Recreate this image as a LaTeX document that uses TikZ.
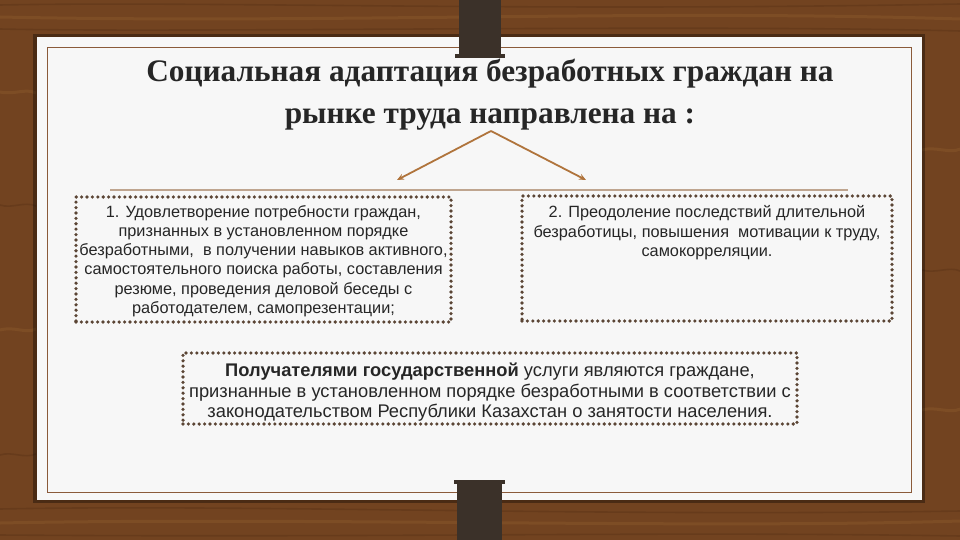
\documentclass[tikz,border=0pt]{standalone}
\usepackage{fontspec}
\setmainfont{Liberation Serif}
\setsansfont{Liberation Sans}
\newfontfamily\boxfont{Liberation Sans}
\usetikzlibrary{arrows.meta}
\definecolor{wood}{HTML}{724320}
\definecolor{wooddark}{HTML}{4E2A12}
\definecolor{woodlight}{HTML}{93602F}
\definecolor{card}{HTML}{F7F7F7}
\definecolor{frameline}{HTML}{8A5A3A}
\definecolor{post}{HTML}{3B3129}
\definecolor{arrowc}{HTML}{B0743C}
\definecolor{dotc}{HTML}{5B4535}
\definecolor{rulec}{HTML}{BFA58F}
\definecolor{txt}{HTML}{262626}
\tikzset{
  dotbox/.style={draw=dotc, line width=3.6pt, dash pattern=on 0pt off 5.4pt, line cap=round, fill=card, inner sep=0pt},
  boxtext/.style={font=\boxfont\fontsize{16.3}{19.3}\selectfont, text=txt, align=center, inner sep=0pt},
  titletext/.style={font=\bfseries\fontsize{31.3}{42}\selectfont, text=txt, align=center, inner sep=0pt},
  brancharrow/.style={draw=arrowc, line width=1.8pt, -{Stealth[length=7pt,width=6pt]}},
  grain/.style={draw=wooddark, line width=1.6pt, opacity=0.3},
  grainlight/.style={draw=woodlight, line width=3pt, opacity=0.35}
}
\begin{document}
\begin{tikzpicture}[x=1pt,y=-1pt]
\useasboundingbox (0,0) rectangle (960,540);
% wood background
\fill[wood] (0,0) rectangle (960,540);
\draw[grain] (0,5) .. controls (220,1) and (520,12) .. (960,4);
\draw[grainlight] (0,17) .. controls (330,24) and (640,9) .. (960,19);
\draw[grain] (0,29) .. controls (180,33) and (700,24) .. (960,31);
\draw[grainlight] (0,92) .. controls (15,95) and (25,88) .. (36,93);
\draw[grainlight] (922,150) .. controls (935,146) and (950,154) .. (960,149);
\draw[grain] (0,205) .. controls (12,209) and (24,201) .. (36,206);
\draw[grain] (922,270) .. controls (935,274) and (950,266) .. (960,271);
\draw[grainlight] (0,330) .. controls (15,326) and (25,334) .. (36,329);
\draw[grainlight] (922,410) .. controls (935,406) and (950,414) .. (960,409);
\draw[grain] (0,455) .. controls (12,451) and (24,459) .. (36,454);
\draw[grain] (0,509) .. controls (250,504) and (600,517) .. (960,511);
\draw[grainlight] (0,523) .. controls (300,517) and (700,529) .. (960,521);
\draw[grain] (0,535) .. controls (400,538) and (650,531) .. (960,536);
% card with shadow
\fill[black, opacity=0.35] (33,34) rectangle (925,503);
\fill[card] (37,37) rectangle (922,500);
\draw[frameline, line width=1pt] (47,48) rectangle (911,492);
% posts
\fill[post] (459,0) rectangle (501,55);
\fill[post] (455,54) rectangle (505,58);
\fill[post] (454,480) rectangle (505,484);
\fill[post] (457,483) rectangle (502,540);
% title
\node[titletext] (title) at (490,95) {Социальная адаптация безработных граждан на\\рынке труда направлена на :};
% branch arrows
\coordinate (apex) at (491,131);
\coordinate (lend) at (397,180);
\coordinate (rend) at (586,180);
\draw[brancharrow] (apex) -- (lend);
\draw[brancharrow] (apex) -- (rend);
% rule
\coordinate (ruleL) at (110,190);
\coordinate (ruleR) at (848,190);
\draw[rulec, line width=1.4pt] (ruleL) -- (ruleR);
% boxes
\node[dotbox, minimum width=375pt, minimum height=125pt] (box1) at (263.5,259.5) {};
\node[boxtext] (t1) at (263.5,261) {1. Удовлетворение потребности граждан,\\признанных в установленном порядке\\безработными,~ в получении навыков активного,\\самостоятельного поиска работы, составления\\резюме, проведения деловой беседы с\\работодателем, самопрезентации;};
\node[dotbox, minimum width=370pt, minimum height=125pt] (box2) at (707,258.5) {};
\node[boxtext, anchor=north] (t2) at ([yshift=-11.5pt]box2.north) {2. Преодоление последствий длительной\\безработицы, повышения~ мотивации к труду,\\самокорреляции.};
\node[dotbox, minimum width=614pt, minimum height=71pt] (box3) at (490,388.5) {};
\node[boxtext, font=\boxfont\fontsize{18.3}{20.5}\selectfont] (t3) at (490,392.5) {\textbf{Получателями государственной} услуги являются граждане,\\признанные в установленном порядке безработными в соответствии с\\законодательством Республики Казахстан о занятости населения.};
\end{tikzpicture}
\end{document}
